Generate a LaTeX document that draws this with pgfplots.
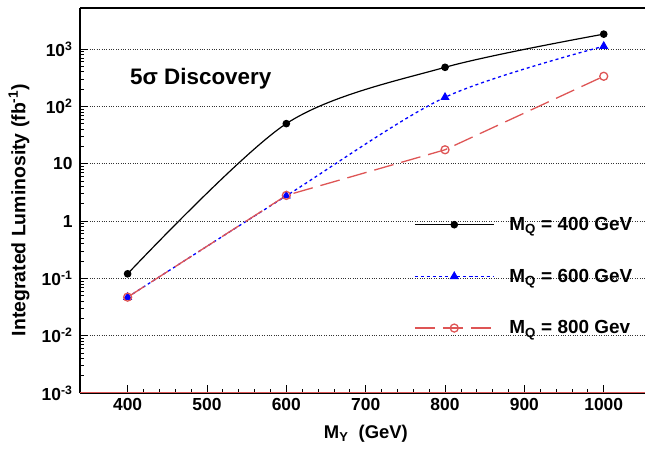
\documentclass[border=0pt]{standalone}
\usepackage{fontspec}
\setmainfont{Liberation Sans}
\usepackage{pgfplots}
\pgfplotsset{compat=1.18}
\definecolor{myred}{RGB}{222,85,85}
\begin{document}
\begin{tikzpicture}
\useasboundingbox (-80bp,-56bp) rectangle (565bp,393bp);
\begin{axis}[
  at={(0,0)}, anchor=south west,
  scale only axis, width=565bp, height=385bp,
  xmin=340, xmax=1052, ymode=log, ymin=1e-3, ymax=5200,
  axis x line*=bottom, axis y line*=left,
  axis line style={line width=1.5pt},
  xtick={400,500,...,1000}, minor x tick num=4,
  ytick={1e-3,1e-2,1e-1,1,10,100,1000},
  yticklabels={10\textsuperscript{-3},10\textsuperscript{-2},10\textsuperscript{-1},1,10,10\textsuperscript{2},10\textsuperscript{3}},
  tick align=inside, major tick length=8bp, minor tick length=4bp,
  tick style={black, line width=0.8pt},
  ymajorgrids, major grid style={dotted, line width=0.7pt, black!80},
  /pgf/number format/assume math mode=true,
  /pgf/number format/1000 sep={},
  ticklabel style={font=\bfseries\fontsize{17.5}{19}\selectfont},
  xticklabel style={yshift=-2bp},
  yticklabel style={xshift=-4bp},
  xlabel={M\textsubscript{Y}\ \ (GeV)},
  ylabel={Integrated Luminosity (fb\textsuperscript{-1})},
  xlabel style={font=\bfseries\fontsize{18.5}{20}\selectfont, at={(rel axis cs:0.506,0)}, yshift=-41bp, anchor=center},
  ylabel style={font=\bfseries\fontsize{19.5}{21}\selectfont, at={(rel axis cs:-0.108,0.475)}, anchor=center},
  legend style={draw=none, fill=none, at={(0.591,0.462)}, anchor=north west,
    font=\bfseries\fontsize{19}{21}\selectfont, row sep=33bp, inner sep=0pt},
  legend cell align=left,
  legend image code/.code={\draw[mark repeat=2,mark phase=2,#1] plot coordinates {(0bp,0bp) (39.5bp,0bp) (79bp,0bp)}; \path (92bp,0bp);},
]
\addplot[black, line width=1.2pt, smooth, mark=*, mark size=3.2bp] coordinates {(400,0.12)(600,50)(800,480)(1000,1820)};
\addlegendentry{M\textsubscript{Q} = 400 GeV}
\addplot[blue, line width=1.3pt, smooth, dash pattern=on 3bp off 3bp, mark=triangle*, mark size=4bp, mark options={solid}] coordinates {(400,0.047)(600,2.75)(800,144)(1000,1120)};
\addlegendentry{M\textsubscript{Q} = 600 GeV}
\addplot[myred, line width=1.3pt, dash pattern=on 20bp off 8bp, mark=o, mark size=4bp, mark options={solid}] coordinates {(400,0.047)(600,2.8)(800,17.5)(1000,335)};
\addlegendentry{M\textsubscript{Q} = 800 Gev}
\draw[myred, line width=0.6pt] ([yshift=1bp]rel axis cs:0,0) -- ([yshift=1bp]rel axis cs:1,0);
\draw[line width=1.5pt] (rel axis cs:0,1) -- (rel axis cs:1,1);
\node[anchor=base west, inner sep=0pt, font=\bfseries\fontsize{22.5}{24}\selectfont] at (rel axis cs:0.0885,0.8) {5σ Discovery};
\end{axis}
\end{tikzpicture}
\end{document}
